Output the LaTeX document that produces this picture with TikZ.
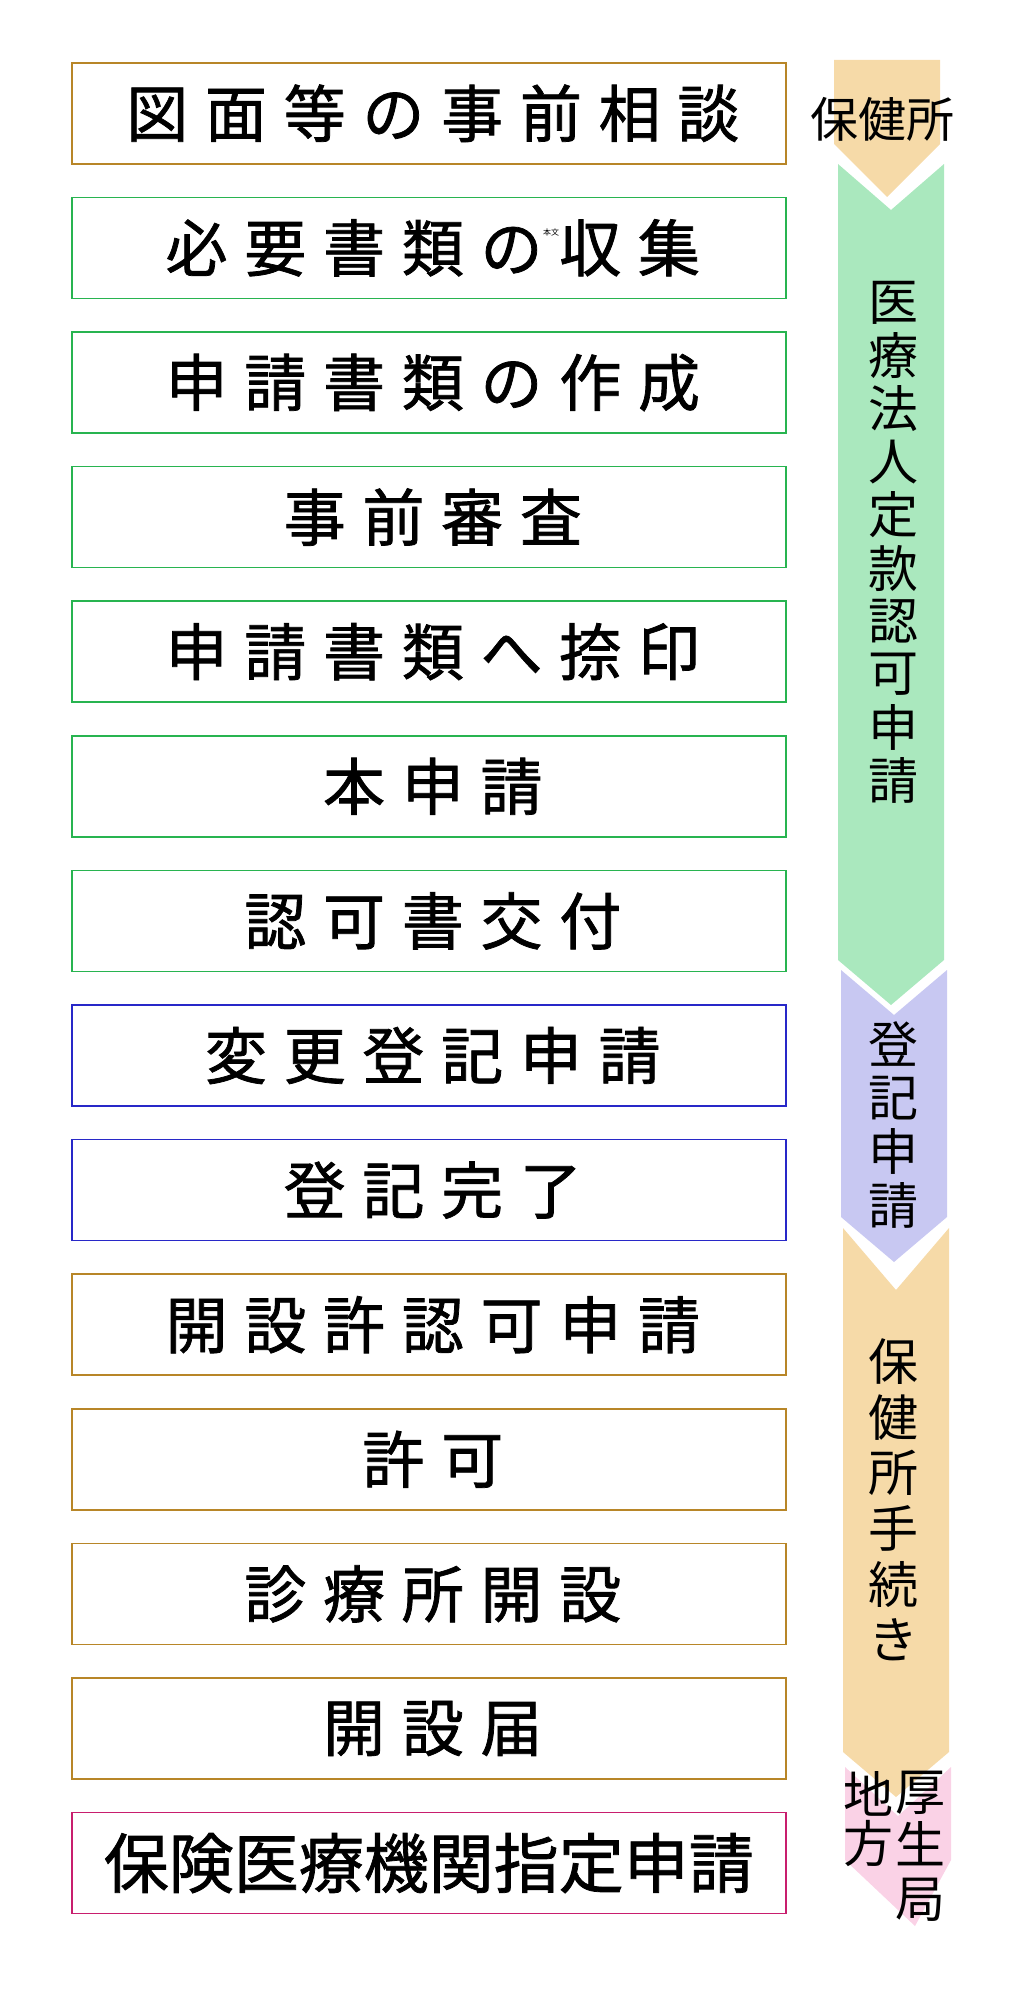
\documentclass[tikz,border=0pt]{standalone}
\usepackage{fontspec}
\setmainfont{Noto Sans CJK JP}
\newfontfamily\boxfont[LetterSpace=27,FakeBold=1.2]{Noto Sans CJK JP}
\newfontfamily\tightfont[FakeBold=1.2]{Noto Sans CJK JP}
\newfontfamily\plainfont{Noto Sans CJK JP}
\definecolor{cbrown}{RGB}{184,134,40}
\definecolor{cgreen}{RGB}{40,180,80}
\definecolor{cblue}{RGB}{40,40,200}
\definecolor{cpink}{RGB}{200,30,110}
\definecolor{forange}{RGB}{246,218,168}
\definecolor{fgreen}{RGB}{170,232,190}
\definecolor{fblue}{RGB}{200,200,242}
\definecolor{fpink}{RGB}{250,210,230}
\tikzset{stepbox/.style={draw=#1,line width=1.6pt,minimum width=714pt,minimum height=101pt,inner sep=0pt,font=\boxfont\fontsize{62}{62}\selectfont},
vlab/.style={font=\plainfont\fontsize{50}{50}\selectfont,inner sep=0pt}}
\begin{document}
\begin{tikzpicture}[x=1pt,y=-1pt]
\useasboundingbox (0,0) rectangle (1032,2009);
% arrows
\fill[forange] (834,60) -- (940,60) -- (940,144) -- (887,197) -- (834,144) -- cycle;
\fill[fgreen] (838,164) -- (891,210) -- (944,164) -- (944,960) -- (891,1005) -- (838,960) -- cycle;
\fill[fblue] (841,970) -- (894,1015) -- (947,970) -- (947,1217) -- (894,1262) -- (841,1217) -- cycle;
\fill[forange] (843,1228) -- (896,1290) -- (949,1228) -- (949,1752) -- (896,1797) -- (843,1752) -- cycle;
\fill[fpink] (845,1767) -- (898,1816) -- (951,1767) -- (951,1860) -- (915,1926) -- (845,1860) -- cycle;
% boxes
\foreach \t/\c [count=\i from 0] in {図面等の事前相談/cbrown,必要書類の収集/cgreen,申請書類の作成/cgreen,事前審査/cgreen,申請書類へ捺印/cgreen,本申請/cgreen,認可書交付/cgreen,変更登記申請/cblue,登記完了/cblue,開設許認可申請/cbrown,許可/cbrown,診療所開設/cbrown,開設届/cbrown}
  \node[stepbox=\c,anchor=north west] (b\i) at (71,62+134.6*\i) {\hspace*{8pt}\t};
\node[stepbox=cpink,anchor=north west,font=\tightfont\fontsize{65}{65}\selectfont] (b13) at (71,62+134.6*13) {保険医療機関指定申請};
\node[font=\plainfont\fontsize{8}{8}\selectfont,inner sep=0pt] (note) at (551,232) {本文};
% labels
\node[vlab,font=\plainfont\fontsize{48}{48}\selectfont] (l0) at (882,119) {保健所};
\foreach \ch [count=\k from 0] in {医,療,法,人,定,款,認,可,申,請}
  \node[vlab] (g\k) at (893,303+53*\k) {\ch};
\foreach \ch [count=\k from 0] in {登,記,申,請}
  \node[vlab] (r\k) at (893,1044+53.7*\k) {\ch};
\foreach \ch [count=\k from 0] in {保,健,所,手,続,き}
  \node[vlab] (h\k) at (893,1362+55.5*\k) {\ch};
\node[vlab] (p1) at (868,1794) {地};
\node[vlab] (p2) at (868,1844) {方};
\node[vlab] (p3) at (920,1793) {厚};
\node[vlab] (p4) at (920,1844) {生};
\node[vlab] (p5) at (920,1900) {局};
\end{tikzpicture}
\end{document}
